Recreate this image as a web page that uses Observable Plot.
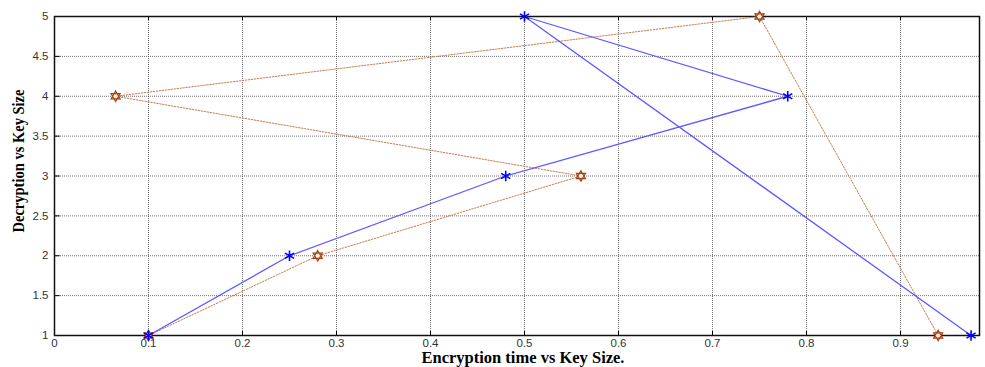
<!DOCTYPE html>
<html><head><meta charset="utf-8">
<script src="https://cdn.jsdelivr.net/npm/d3@7"></script>
<script src="https://cdn.jsdelivr.net/npm/@observablehq/plot@0.6"></script>
<style>body{margin:0;background:#fff}</style>
</head><body><div id="chart"></div>
<script>
const keySize = [1, 2, 3, 4, 5, 1];
const blueX = [0.1, 0.25, 0.48, 0.78, 0.5, 0.975];
const orangeX = [0.1, 0.28, 0.56, 0.065, 0.75, 0.94];
const xTicks = [0, 0.1, 0.2, 0.3, 0.4, 0.5, 0.6, 0.7, 0.8, 0.9];
const yTicks = [1, 1.5, 2, 2.5, 3, 3.5, 4, 4.5, 5];
const xTitle = "Encryption time vs Key Size.";
const yTitle = "Decryption vs Key Size";

const blue = keySize.map((k, i) => ({x: blueX[i], y: k}));
const orange = keySize.map((k, i) => ({x: orangeX[i], y: k}));

const hexagram = {
  draw(ctx, size) {
    const r = Math.sqrt(size) * 0.75;
    for (const off of [-Math.PI / 2, Math.PI / 2]) {
      for (let j = 0; j < 3; j++) {
        const a = off + j * 2 * Math.PI / 3;
        const px = r * Math.cos(a), py = r * Math.sin(a);
        if (j === 0) ctx.moveTo(px, py); else ctx.lineTo(px, py);
      }
      ctx.closePath();
    }
  }
};

const tickLenY = 0.05, tickLenX = 0.006;
const serif = "'Liberation Serif', 'Times New Roman', serif";
const chart = Plot.plot({
  width: 985, height: 367,
  marginLeft: 54, marginRight: 6, marginTop: 16, marginBottom: 32,
  style: {fontFamily: "'Liberation Sans', Arial, sans-serif", fontSize: "11.5px", color: "#333"},
  x: {domain: [0, 0.984]},
  y: {domain: [1, 5]},
  marks: [
    Plot.gridX(xTicks, {stroke: "#333", strokeOpacity: 0.7, strokeDasharray: "1,1"}),
    Plot.gridY(yTicks, {stroke: "#333", strokeOpacity: 0.7, strokeDasharray: "1,1"}),
    Plot.axisX(xTicks, {tickSize: 0, tickPadding: 3, tickFormat: d => String(d), label: null, fill: "#333"}),
    Plot.axisY(yTicks, {tickSize: 0, tickPadding: 6, tickFormat: d => String(d), label: null, fill: "#333"}),
    Plot.ruleX(xTicks, {y1: 1, y2: 1 + tickLenY, stroke: "#000"}),
    Plot.ruleX(xTicks, {y1: 5, y2: 5 - tickLenY, stroke: "#000"}),
    Plot.ruleY(yTicks, {x1: 0, x2: tickLenX, stroke: "#000"}),
    Plot.frame({stroke: "#111", strokeWidth: 1.5}),
    Plot.line(orange, {x: "x", y: "y", stroke: "#cc7a50", strokeWidth: 1, strokeDasharray: "1.5,1.5"}),
    Plot.line(blue, {x: "x", y: "y", stroke: "#5a5aff", strokeWidth: 1.3}),
    Plot.dot(orange, {x: "x", y: "y", symbol: hexagram, r: 4, stroke: "#a83c0c", strokeWidth: 1.1, fill: "#fff4e6"}),
    Plot.dot(blue, {x: "x", y: "y", symbol: "asterisk", r: 5, stroke: "#0000ff", strokeWidth: 1.6}),
    Plot.text([xTitle], {frameAnchor: "bottom", dx: 6, dy: 27.5, fontFamily: serif, fontWeight: "bold", fontSize: 16, fill: "#000"}),
    Plot.text([yTitle], {frameAnchor: "left", textAnchor: "middle", dx: -36, dy: -15, rotate: -90, fontFamily: serif, fontWeight: "bold", fontSize: 16, fill: "#000"})
  ]
});
chart.querySelectorAll("text").forEach(t => {
  if (t.textContent === yTitle) { t.setAttribute("textLength", 143); t.setAttribute("lengthAdjust", "spacingAndGlyphs"); }
  if (t.textContent === xTitle) { t.setAttribute("textLength", 203); t.setAttribute("lengthAdjust", "spacingAndGlyphs"); }
});
document.getElementById("chart").appendChild(chart);
</script>
</body></html>
